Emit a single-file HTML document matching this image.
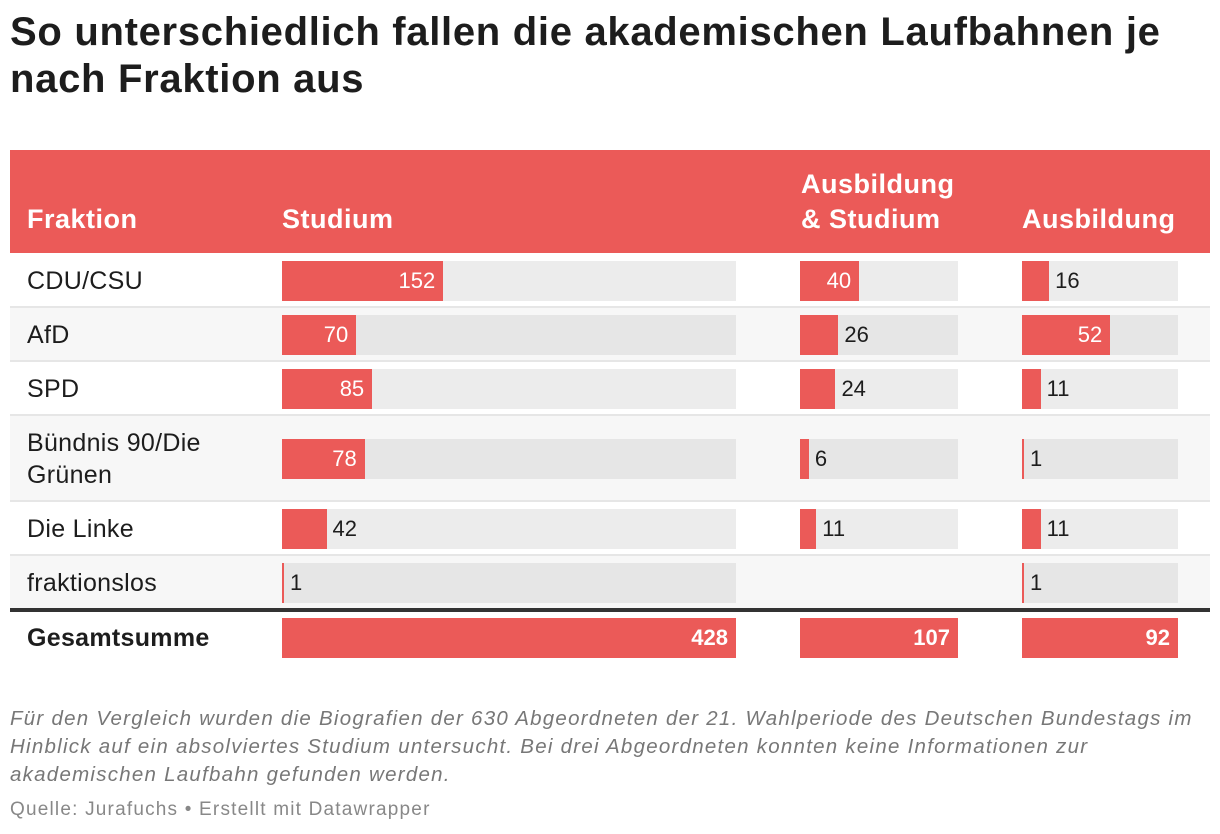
<!DOCTYPE html>
<html><head><meta charset="utf-8">
<style>
body{margin:0;width:1220px;height:834px;background:#fff;font-family:"Liberation Sans",sans-serif;position:relative;overflow:hidden;color:#1d1d1d}
.a{position:absolute}
h1{position:absolute;left:10px;top:9px;margin:0;font-size:40px;line-height:47px;font-weight:bold;color:#1d1d1d;letter-spacing:0.7px}
.hd{color:#fff;font-weight:bold;font-size:27px;line-height:35px;letter-spacing:0.5px}
.lbl{font-size:25px;line-height:32px;letter-spacing:0.3px}
.v{font-size:22px;line-height:40px;position:absolute;top:0}
</style></head><body>
<h1>So unterschiedlich fallen die akademischen Laufbahnen je<br>nach Fraktion aus</h1>
<div class="a" style="left:10px;top:150px;width:1200px;height:103px;background:#eb5a58"></div>
<div class="a hd" style="left:27px;top:202px">Fraktion</div>
<div class="a hd" style="left:282px;top:202px">Studium</div>
<div class="a hd" style="left:801px;top:167px">Ausbildung<br>&amp; Studium</div>
<div class="a hd" style="left:1022px;top:202px">Ausbildung</div>
<div id="rows"></div>
<div class="a" style="left:10px;top:705px;font-size:20.5px;line-height:28px;font-style:italic;color:#777;letter-spacing:1.25px">Für den Vergleich wurden die Biografien der 630 Abgeordneten der 21. Wahlperiode des Deutschen Bundestags im<br>Hinblick auf ein absolviertes Studium untersucht. Bei drei Abgeordneten konnten keine Informationen zur<br>akademischen Laufbahn gefunden werden.</div>
<div class="a" style="left:10px;top:797px;font-size:19px;line-height:26px;color:#888;letter-spacing:1.2px">Quelle: Jurafuchs • Erstellt mit Datawrapper</div>
<script>
const parties=["CDU/CSU","AfD","SPD","Bündnis 90/Die<br>Grünen","Die Linke","fraktionslos"];
const studium=[152,70,85,78,42,1];
const ausbStudium=[40,26,24,6,11,null];
const ausbildung=[16,52,11,1,11,1];
const totals=[428,107,92];
const cols=[{x:282,w:454,max:428,data:studium},{x:800,w:158,max:107,data:ausbStudium},{x:1022,w:156,max:92,data:ausbildung}];
const rowTop=[254,308,362,416,502,556];
const rowH=[52,52,52,84,52,52];
const R=document.getElementById('rows');
function bar(c,val,top,total,grey){
  const bg=document.createElement('div');bg.className='a';
  
  
  bg.style.cssText=`left:${c.x}px;top:${top}px;width:${c.w}px;height:40px;background:${total?'transparent':(grey?'#e6e6e6':'#ececec')}`;
  const w=Math.max(2,val/c.max*c.w);
  const b=document.createElement('div');b.className='a';
  
  
  b.style.cssText=`left:0;top:0;width:${w}px;height:40px;background:#eb5a58`;
  bg.appendChild(b);
  const t=document.createElement('div');t.className='v';
  
  
  t.textContent=val;
  if(w>50){t.style.right=(c.w-w+8)+'px';t.style.color='#fff';if(total)t.style.fontWeight='bold';}
  else{t.style.left=(w+6)+'px';t.style.color='#1d1d1d';}
  bg.appendChild(t);
  R.appendChild(bg);
}
parties.forEach((p,i)=>{
  const grey=i%2==1;
  const row=document.createElement('div');row.className='a';
  
  
  row.style.cssText=`left:10px;top:${rowTop[i]}px;width:1200px;height:${rowH[i]}px;background:${grey?'#f7f7f7':'#fff'};border-bottom:${i<5?'2px solid #e6e6e6':'none'}`;
  R.appendChild(row);
  const l=document.createElement('div');l.className='a lbl';
  
  
  l.innerHTML=p;
  l.style.cssText=`left:27px;top:${rowTop[i]+(rowH[i]-(i==3?64:32))/2+1}px`;
  R.appendChild(l);
  const bt=rowTop[i]+(rowH[i]-40)/2+1;
  cols.forEach(c=>{if(c.data[i]!=null)bar(c,c.data[i],bt,false,grey);});
});
const line=document.createElement('div');line.className='a';


line.style.cssText='left:10px;top:608px;width:1200px;height:4px;background:#333';
R.appendChild(line);
const tl=document.createElement('div');tl.className='a lbl';


tl.style.cssText='left:27px;top:622px;font-weight:bold';tl.textContent='Gesamtsumme';
R.appendChild(tl);
cols.forEach((c,k)=>bar(c,totals[k],618,true,false));
</script>
</body></html>
